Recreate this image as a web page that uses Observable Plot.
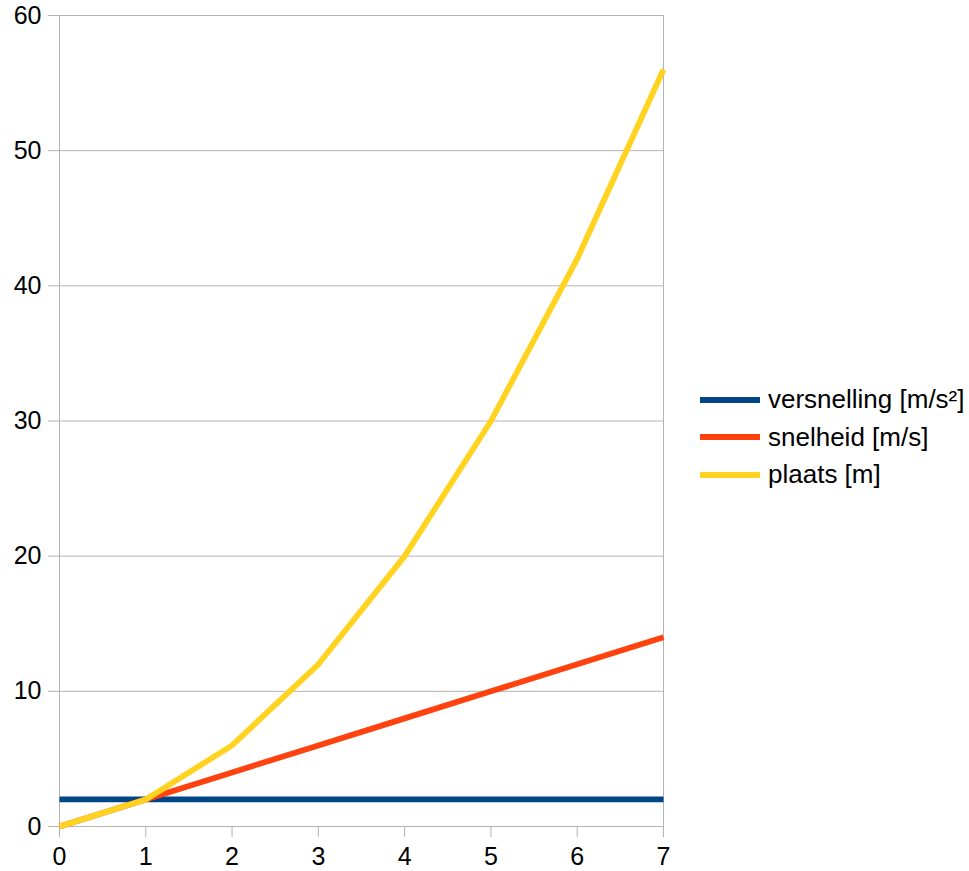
<!DOCTYPE html>
<html>
<head>
<meta charset="utf-8">
<script src="https://cdn.jsdelivr.net/npm/d3@7"></script>
<script src="https://cdn.jsdelivr.net/npm/@observablehq/plot@0.6"></script>
<style>
  body { margin: 0; background: #fff; font-family: "Liberation Sans", Arial, sans-serif; }
  #wrap { position: relative; width: 969px; height: 871px; overflow: hidden; }
  #legend { position: absolute; left: 700px; top: 381px; font-size: 26px; color: #000; }
  .item { display: flex; align-items: center; height: 37.5px; white-space: nowrap; }
  .sw { width: 60px; height: 6px; margin-right: 8px; }
</style>
</head>
<body>
<div id="wrap"><div id="legend"></div></div>
<script>
const time = [0, 1, 2, 3, 4, 5, 6, 7];
const versnelling = [2, 2, 2, 2, 2, 2, 2, 2];
const snelheid = [0, 2, 4, 6, 8, 10, 12, 14];
const plaats = [0, 2, 6, 12, 20, 30, 42, 56];
const seriesNames = ["versnelling [m/s²]", "snelheid [m/s]", "plaats [m]"];
const seriesColors = ["#004586", "#ff420e", "#ffd320"];
const yTicks = [0, 10, 20, 30, 40, 50, 60];
const xTicks = [0, 1, 2, 3, 4, 5, 6, 7];

const seriesValues = [versnelling, snelheid, plaats];
const data = seriesValues.flatMap((vals, i) =>
  time.map((t, j) => ({ t, v: vals[j], s: seriesNames[i] })));

const grid = "#b3b3b3";
const chart = Plot.plot({
  width: 969,
  height: 871,
  marginLeft: 59,
  marginRight: 306,
  marginTop: 15,
  marginBottom: 45,
  style: { fontFamily: "Liberation Sans, Arial, sans-serif", fontSize: "25px", color: "#000", background: "#fff", overflow: "visible" },
  x: { domain: [0, 7] },
  y: { domain: [0, 60] },
  color: { domain: seriesNames, range: seriesColors },
  marks: [
    Plot.gridY(yTicks, { stroke: grid, strokeOpacity: 1, strokeWidth: 1 }),
    Plot.ruleX([0, 7], { stroke: grid, strokeWidth: 1 }),
    Plot.axisY(yTicks, { tickSize: 11, tickPadding: 7, stroke: grid, strokeOpacity: 1, fill: "#000", fontSize: 25, label: null }),
    Plot.axisX(xTicks, { tickSize: 11, tickPadding: 10, stroke: grid, strokeOpacity: 1, fill: "#000", fontSize: 25, label: null }),
    Plot.line(data, { x: "t", y: "v", z: "s", stroke: "s", strokeWidth: 5.8, strokeLinecap: "butt", strokeLinejoin: "round" })
  ]
});
document.getElementById("wrap").prepend(chart);
chart.style.display = "block";

const legend = document.getElementById("legend");
seriesNames.forEach((n, i) => {
  const it = document.createElement("div");
  it.className = "item";
  const sw = document.createElement("div");
  sw.className = "sw";
  sw.style.background = seriesColors[i];
  const tx = document.createElement("span");
  tx.textContent = n;
  it.append(sw, tx);
  legend.append(it);
});
</script>
</body>
</html>
